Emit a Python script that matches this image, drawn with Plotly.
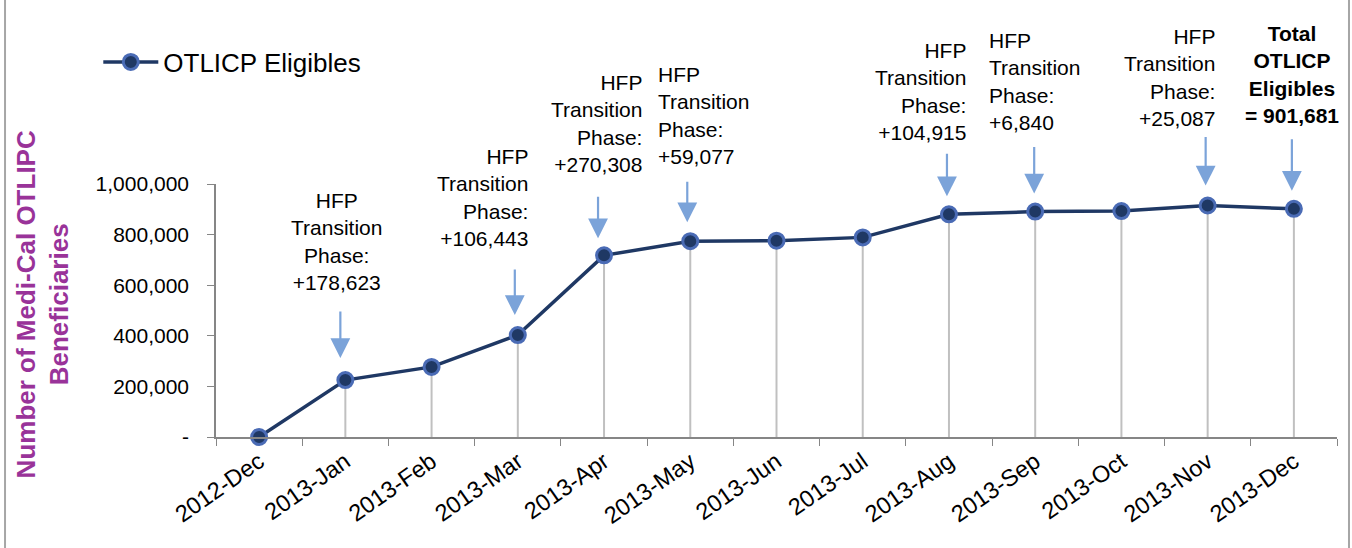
import plotly.graph_objects as go

# data
months = [
    "2012-Dec", "2013-Jan", "2013-Feb", "2013-Mar", "2013-Apr", "2013-May",
    "2013-Jun", "2013-Jul", "2013-Aug", "2013-Sep", "2013-Oct", "2013-Nov",
    "2013-Dec",
]
eligibles = [
    0, 225000, 277000, 403000, 718000, 774000,
    776000, 789000, 880000, 891000, 893000, 915000, 901681,
]
y_tickvals = [0, 200000, 400000, 600000, 800000, 1000000]
y_ticktext = ["-", "200,000", "400,000", "600,000", "800,000", "1,000,000"]

callout_months = ["2013-Jan", "2013-Mar", "2013-Apr", "2013-May",
                  "2013-Aug", "2013-Sep", "2013-Nov", "2013-Dec"]
callout_texts = [
    "HFP<br>Transition<br>Phase:<br>+178,623",
    "HFP<br>Transition<br>Phase:<br>+106,443",
    "HFP<br>Transition<br>Phase:<br>+270,308",
    "HFP<br>Transition<br>Phase:<br>+59,077",
    "HFP<br>Transition<br>Phase:<br>+104,915",
    "HFP<br>Transition<br>Phase:<br>+6,840",
    "HFP<br>Transition<br>Phase:<br>+25,087",
    "<b>Total<br>OTLICP<br>Eligibles<br>= 901,681</b>",
]

# label placement (anchor/align, xshift, yshift) and arrow (ay, standoff, xshift)
label_style = [
    ("center", -9, 84), ("right", 12, 83), ("right", 40, 77), ("left", -34, 71),
    ("right", 19, 68), ("left", -48, 76), ("right", 9, 74), ("center", -2, 80),
]
arrow_style = [
    (-70, 22, -5), (-67, 20, -3), (-60, 17, -6), (-61, 19, -3),
    (-62, 18, -2), (-66, 18, -1), (-70, 20, -2), (-71, 18, -2),
]

navy = "#1F3864"
arrow_blue = "#7BA3D9"
axis_grey = "#868686"
font = "Liberation Sans, Arial, sans-serif"

fig = go.Figure()

# grey drop lines from each point to the axis
fig.add_trace(
    go.Scatter(
        x=months,
        y=eligibles,
        mode="markers",
        marker=dict(size=1, color="rgba(0,0,0,0)"),
        error_y=dict(
            type="data",
            symmetric=False,
            array=[0] * len(eligibles),
            arrayminus=eligibles,
            color="#C0C0C0",
            thickness=2,
            width=0,
        ),
        showlegend=False,
        hoverinfo="skip",
        cliponaxis=False,
    )
)

fig.add_trace(
    go.Scatter(
        x=months,
        y=eligibles,
        mode="lines+markers",
        name="OTLICP Eligibles",
        line=dict(color=navy, width=3.5),
        marker=dict(size=15, color=navy, line=dict(color="#4A6BB5", width=3)),
        cliponaxis=False,
    )
)

value_of = dict(zip(months, eligibles))
for m, txt, (anchor, xs, ys), (ay, stand, axs) in zip(
    callout_months, callout_texts, label_style, arrow_style
):
    fig.add_annotation(
        x=m, y=value_of[m], text="", showarrow=True,
        ax=0, ay=ay, standoff=stand, xshift=axs,
        arrowhead=2, arrowsize=1.8, arrowwidth=2.2, arrowcolor=arrow_blue,
    )
    fig.add_annotation(
        x=m, y=value_of[m], text=txt, showarrow=False,
        xanchor=anchor, align=anchor, yanchor="bottom",
        xshift=xs, yshift=ys,
        font=dict(family=font, size=21, color="black"),
    )

# y axis title as rotated text
fig.add_annotation(
    xref="paper", yref="paper", x=-0.1548, y=0.526,
    xanchor="center", yanchor="middle",
    text="<b>Number of Medi-Cal OTLIPC<br>Beneficiaries</b>",
    textangle=-90, showarrow=False, align="center",
    font=dict(family=font, size=26, color="#993399"),
)

# chart frame edges
for xp in [-0.1882, 1.0107]:
    fig.add_shape(
        type="line", xref="paper", yref="paper",
        x0=xp, x1=xp, y0=-0.5, y1=1.8,
        line=dict(color="#A6A6A6", width=2),
    )

fig.update_layout(
    width=1352,
    height=548,
    margin=dict(l=216, r=15, t=184, b=111),
    plot_bgcolor="white",
    paper_bgcolor="white",
    font=dict(family=font, size=21, color="black"),
    legend=dict(
        x=-0.105, y=1.482, xanchor="left", yanchor="middle",
        font=dict(size=26), itemwidth=55, bgcolor="rgba(0,0,0,0)",
    ),
    xaxis=dict(
        type="category",
        range=[-0.5, 12.5],
        showline=True, linecolor=axis_grey, linewidth=1.5,
        ticks="outside", tickson="boundaries", ticklen=7, tickcolor=axis_grey,
        tickangle=-35, showgrid=False,
        tickfont=dict(size=23.5),
    ),
    yaxis=dict(
        range=[0, 1000000],
        tickvals=y_tickvals, ticktext=y_ticktext,
        showline=True, linecolor=axis_grey, linewidth=1.5,
        ticks="outside", ticklen=7, tickcolor=axis_grey,
        ticklabelstandoff=14,
        showgrid=False, zeroline=False,
        tickfont=dict(size=21),
    ),
)

# drop the default page margin so the figure sits at the window corner
fig.write_html(
    "out.html",
    config={"displayModeBar": False},
    post_script="document.body.style.margin='0';",
)
